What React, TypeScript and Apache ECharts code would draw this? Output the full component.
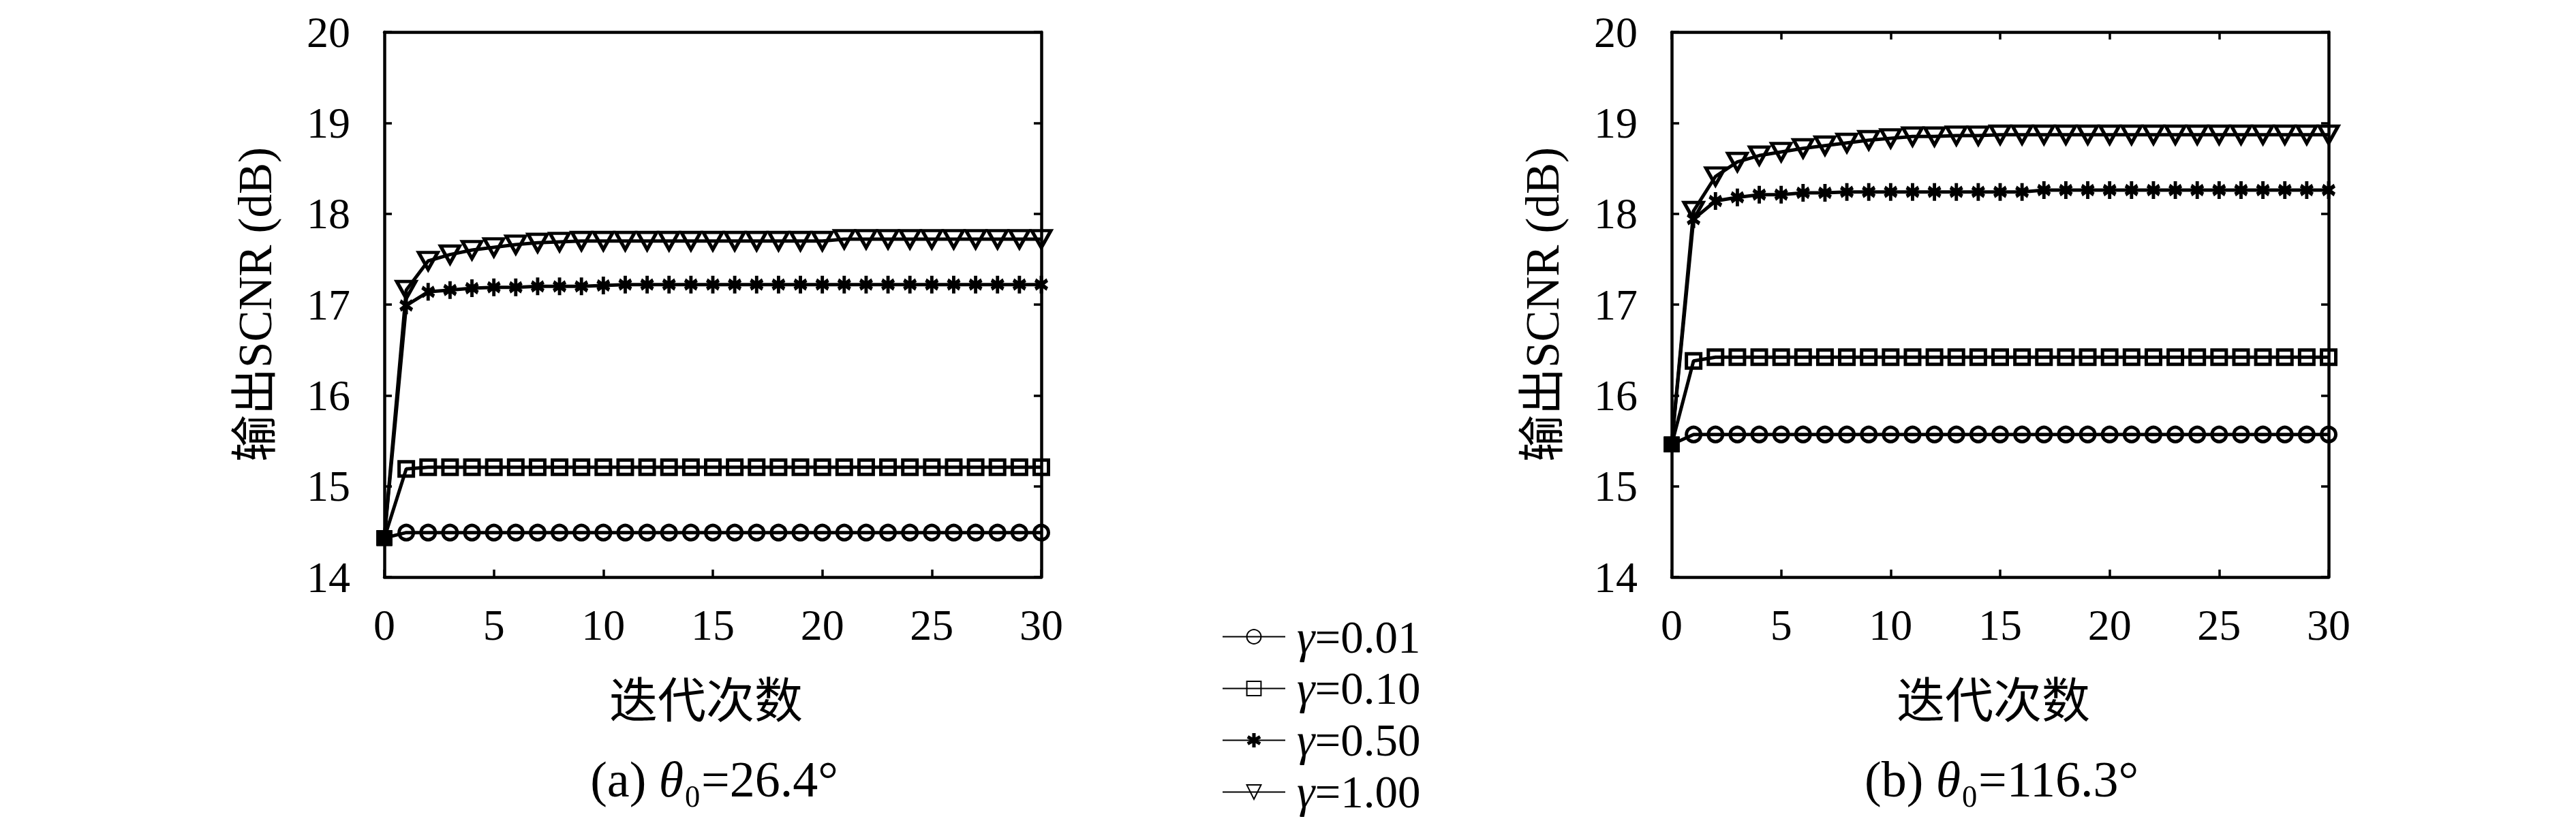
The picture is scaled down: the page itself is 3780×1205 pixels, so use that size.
import React, { useEffect, useRef } from "react";
import * as echarts from "echarts";

// ---------- data ----------
const iterations = [0, 1, 2, 3, 4, 5, 6, 7, 8, 9, 10, 11, 12, 13, 14, 15, 16, 17, 18, 19, 20, 21, 22, 23, 24, 25, 26, 27, 28, 29, 30];
const seriesNames = ["γ=0.01", "γ=0.10", "γ=0.50", "γ=1.00"];

// (a) theta0 = 26.4°
const a_g001 = [14.43, 14.49, 14.49, 14.49, 14.49, 14.49, 14.49, 14.49, 14.49, 14.49, 14.49, 14.49, 14.49, 14.49, 14.49, 14.49, 14.49, 14.49, 14.49, 14.49, 14.49, 14.49, 14.49, 14.49, 14.49, 14.49, 14.49, 14.49, 14.49, 14.49, 14.49];
const a_g010 = [14.43, 15.19, 15.21, 15.21, 15.21, 15.21, 15.21, 15.21, 15.21, 15.21, 15.21, 15.21, 15.21, 15.21, 15.21, 15.21, 15.21, 15.21, 15.21, 15.21, 15.21, 15.21, 15.21, 15.21, 15.21, 15.21, 15.21, 15.21, 15.21, 15.21, 15.21];
const a_g050 = [14.43, 16.99, 17.14, 17.16, 17.18, 17.19, 17.19, 17.2, 17.2, 17.2, 17.21, 17.22, 17.22, 17.22, 17.22, 17.22, 17.22, 17.22, 17.22, 17.22, 17.22, 17.22, 17.22, 17.22, 17.22, 17.22, 17.22, 17.22, 17.22, 17.22, 17.22];
const a_g100 = [14.43, 17.16, 17.48, 17.55, 17.6, 17.63, 17.66, 17.68, 17.69, 17.7, 17.7, 17.7, 17.7, 17.7, 17.7, 17.7, 17.7, 17.7, 17.7, 17.7, 17.7, 17.72, 17.72, 17.72, 17.72, 17.72, 17.72, 17.72, 17.72, 17.72, 17.72];

// (b) theta0 = 116.3°
const b_g001 = [15.46, 15.57, 15.57, 15.57, 15.57, 15.57, 15.57, 15.57, 15.57, 15.57, 15.57, 15.57, 15.57, 15.57, 15.57, 15.57, 15.57, 15.57, 15.57, 15.57, 15.57, 15.57, 15.57, 15.57, 15.57, 15.57, 15.57, 15.57, 15.57, 15.57, 15.57];
const b_g010 = [15.46, 16.38, 16.42, 16.42, 16.42, 16.42, 16.42, 16.42, 16.42, 16.42, 16.42, 16.42, 16.42, 16.42, 16.42, 16.42, 16.42, 16.42, 16.42, 16.42, 16.42, 16.42, 16.42, 16.42, 16.42, 16.42, 16.42, 16.42, 16.42, 16.42, 16.42];
const b_g050 = [15.46, 17.94, 18.14, 18.18, 18.21, 18.21, 18.23, 18.23, 18.24, 18.24, 18.24, 18.24, 18.24, 18.24, 18.24, 18.24, 18.24, 18.26, 18.26, 18.26, 18.26, 18.26, 18.26, 18.26, 18.26, 18.26, 18.26, 18.26, 18.26, 18.26, 18.26];
const b_g100 = [15.46, 18.03, 18.41, 18.57, 18.64, 18.68, 18.72, 18.75, 18.78, 18.81, 18.83, 18.85, 18.85, 18.86, 18.86, 18.87, 18.87, 18.87, 18.87, 18.87, 18.87, 18.87, 18.87, 18.87, 18.87, 18.87, 18.87, 18.87, 18.87, 18.87, 18.87];

const yMin = 14;
const yMax = 20;
const xMin = 0;
const xMax = 30;
const captionPrefix = ["(a) ", "(b) "];
const captionValue = ["=26.4°", "=116.3°"];
const xName = "迭代次数";
const yName = "输出SCNR (dB)";

// ---------- styling ----------
const FONT = "'Liberation Serif', 'DejaVu Serif', 'Noto Sans CJK SC', serif";
const STAR =
  "path://M38 0L62 0L62 100L38 100Z M0.7 35.39L12.7 14.61L99.3 64.61L87.3 85.39Z M12.7 85.39L0.7 64.61L87.3 14.61L99.3 35.39Z";
const HOLLOW = "rgba(255,255,255,0)";

const symbols = [
  { symbol: "circle", size: 21, rotate: 0, bw: 5, fill: HOLLOW },
  { symbol: "rect", size: 21, rotate: 0, bw: 5, fill: HOLLOW },
  { symbol: STAR, size: [20, 26], rotate: 0, bw: 0, fill: "#000" },
  { symbol: "triangle", size: [28, 25], rotate: 180, bw: 5, fill: HOLLOW },
];

const grids = [
  { left: 564, top: 47, width: 964, height: 800 },
  { left: 2453, top: 47, width: 964, height: 800 },
];

export default function App() {
  const ref = useRef<HTMLDivElement>(null);

  useEffect(() => {
    if (!ref.current) return;
    const chart = echarts.init(ref.current, undefined, { renderer: "svg" });

    const axisLine = { show: true, onZero: false, lineStyle: { color: "#000", width: 4.5 } };
    const tick = { show: true, inside: true, length: 11, lineStyle: { color: "#000", width: 3.5 } };

    const xAxes: any[] = [];
    const yAxes: any[] = [];
    [0, 1].forEach((gi) => {
      xAxes.push({
        type: "value",
        gridIndex: gi,
        position: "bottom",
        min: xMin,
        max: xMax,
        interval: 5,
        name: xName,
        nameLocation: "middle",
        nameGap: 146,
        nameTextStyle: { fontSize: 71, color: "#000", fontFamily: FONT, padding: [0, 20, 0, 0] },
        axisLine,
        axisTick: tick,
        axisLabel: { show: true, margin: 38, fontSize: 64, color: "#000", fontFamily: FONT },
        splitLine: { show: false },
      });
      xAxes.push({
        type: "value",
        gridIndex: gi,
        position: "top",
        min: xMin,
        max: xMax,
        interval: 5,
        axisLine,
        axisTick: { ...tick, show: gi === 1 },
        axisLabel: { show: false },
        splitLine: { show: false },
      });
      yAxes.push({
        type: "value",
        gridIndex: gi,
        position: "left",
        min: yMin,
        max: yMax,
        interval: 1,
        name: yName,
        nameLocation: "middle",
        nameGap: 155,
        nameTextStyle: { fontSize: 69, color: "#000", fontFamily: FONT },
        axisLine,
        axisTick: tick,
        axisLabel: { show: true, margin: 50, fontSize: 64, color: "#000", fontFamily: FONT },
        splitLine: { show: false },
      });
      yAxes.push({
        type: "value",
        gridIndex: gi,
        position: "right",
        min: yMin,
        max: yMax,
        interval: 1,
        axisLine,
        axisTick: tick,
        axisLabel: { show: false },
        splitLine: { show: false },
      });
    });

    const panelData = [
      [a_g001, a_g010, a_g050, a_g100],
      [b_g001, b_g010, b_g050, b_g100],
    ];

    const series: any[] = [];
    panelData.forEach((panel, gi) => {
      panel.forEach((vals, si) => {
        const s = symbols[si];
        series.push({
          type: "line",
          name: seriesNames[si],
          xAxisIndex: gi * 2,
          yAxisIndex: gi * 2,
          symbol: s.symbol,
          symbolSize: s.size,
          symbolRotate: s.rotate,
          showSymbol: true,
          clip: false,
          silent: true,
          z: 2 + si,
          lineStyle: { color: "#000", width: 5 },
          itemStyle: { color: s.fill, borderColor: "#000", borderWidth: s.bw },
          emphasis: { disabled: true },
          data: vals.map((v, i) =>
            i === 0
              ? {
                  value: [iterations[i], v],
                  symbol: "rect",
                  symbolSize: 21,
                  symbolRotate: 0,
                  itemStyle: { color: "#000", borderColor: "#000", borderWidth: 2 },
                }
              : [iterations[i], v]
          ),
        });
      });
    });

    const option: any = {
      animation: false,
      backgroundColor: "#fff",
      grid: grids,
      xAxis: xAxes,
      yAxis: yAxes,
      series,
      legend: {
        orient: "vertical",
        left: 1788,
        top: 896,
        height: 420,
        itemWidth: 92,
        itemHeight: 26,
        itemGap: 9,
        data: seriesNames,
        selectedMode: false,
        formatter: (n: string) => `{g|γ}{n|${n.slice(1)}}`,
        textStyle: {
          fontSize: 67,
          color: "#000",
          fontFamily: FONT,
          rich: {
            g: { fontSize: 67, fontStyle: "italic", fontFamily: FONT, color: "#000", padding: [0, 0, 0, 12], lineHeight: 62 },
            n: { fontSize: 67, fontFamily: FONT, color: "#000", lineHeight: 62 },
          },
        },
      },
      graphic: captionPrefix.map((p, gi) => ({
        type: "text",
        x: grids[gi].left + grids[gi].width / 2 + 2,
        y: 1144,
        style: {
          text: `{n|${p}}{i|θ}{n|₀${captionValue[gi]}}`,
          fontSize: 74,
          fontFamily: FONT,
          fill: "#000",
          align: "center",
          verticalAlign: "middle",
          rich: {
            n: { fontSize: 74, fontFamily: FONT, fill: "#000" },
            i: { fontSize: 74, fontFamily: FONT, fontStyle: "italic", fill: "#000" },
          },
        },
      })),
    };

    chart.setOption(option);
    return () => chart.dispose();
  }, []);

  return (
    <div
      ref={ref}
      style={{ position: "fixed", left: 0, top: 0, width: 3780, height: 1205, background: "#fff" }}
    />
  );
}
